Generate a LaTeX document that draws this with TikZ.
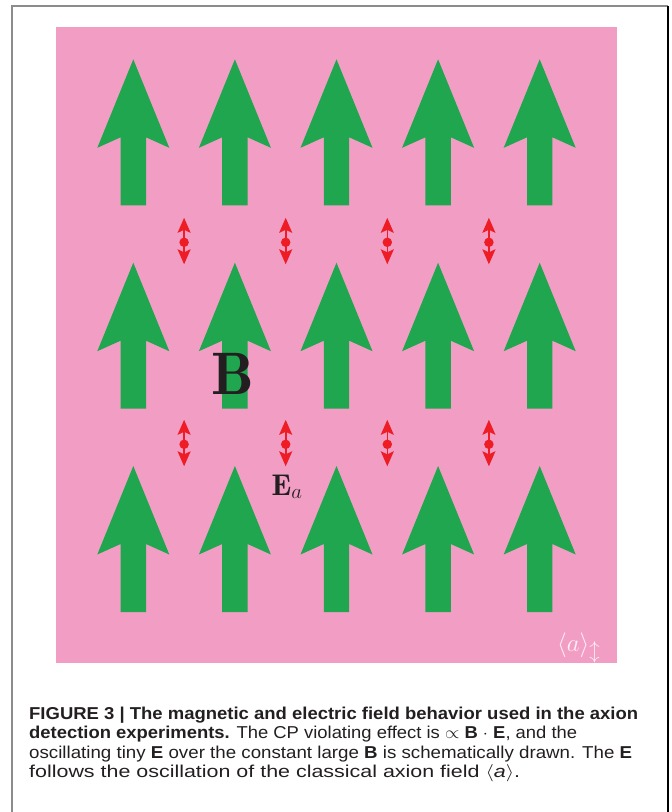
\documentclass[tikz,border=0pt]{standalone}
\usepackage{fontspec}
\usepackage{graphicx}
\newfontfamily\capfont{Liberation Sans}
\usetikzlibrary{arrows.meta}
\definecolor{bgpink}{HTML}{F29EC4}
\definecolor{fgreen}{HTML}{1FA64E}
\definecolor{ered}{HTML}{EE1C25}
\definecolor{inkc}{HTML}{231F20}
\newlength\capw
\newcommand\fitline[2]{\settowidth\capw{#2}\pgfmathsetmacro\capsx{#1/\capw}\scalebox{\capsx}[1]{#2}}
\tikzset{
  bfield/.style={fill=fgreen, draw=none},
  efield/.style={draw=ered, line width=1.6pt,
    {Stealth[length=15pt,width=13pt,inset=3pt]}-{Stealth[length=15pt,width=13pt,inset=3pt]}},
  edot/.style={circle, fill=ered, draw=none, minimum size=9.5pt, inner sep=0pt},
  capline/.style={anchor=base west, inner sep=0pt, text=inkc, font=\capfont\fontsize{17.2}{19.4}\selectfont},
  frameg/.style={draw=gray!90, line width=1.8pt},
  frameb/.style={draw=black, line width=1.5pt}
}
\begin{document}
\begin{tikzpicture}[x=1pt,y=-1pt]
\useasboundingbox (0,0) rectangle (672,812);
% frame
\draw[frameg] (12,812) -- (12,6) -- (668,6);
\draw[frameb] (668,6) -- (668,812);
% background
\fill[bgpink] (56,27) rectangle (616.7,663.3);
% green B-field arrows
\foreach \ty in {59.3,262.7,466} {
  \foreach \c in {0,...,4} {
    \pgfmathsetmacro\cx{133.3+101.6*\c}
    \fill[bfield] (\cx,\ty) -- ++(36,88.5) -- ++(-23.3,-10.5) -- ++(0,68)
      -- ++(-25.4,0) -- ++(0,-68) -- ++(-23.3,10.5) -- cycle;
  }
}
% red E-field oscillation markers
\foreach \r/\ey in {0/242.3,1/444.3} {
  \foreach \c in {0,...,3} {
    \pgfmathsetmacro\ex{184.1+101.6*\c}
    \coordinate (eu\r\c) at (\ex,\ey-24.5);
    \coordinate (ed\r\c) at (\ex,\ey+22);
    \draw[efield] (eu\r\c) -- (ed\r\c);
    \node[edot] (e\r\c) at (\ex,\ey) {};
  }
}
% labels
\node[anchor=base, inner sep=0pt, text=inkc, font=\fontsize{60}{60}\selectfont] (Blab) at (233,394) {$\mathbf{B}$};
\node[anchor=base west, inner sep=0pt, text=inkc, font=\fontsize{30}{30}\selectfont] (Elab) at (271.5,495) {$\mathbf{E}_a$};
\node[anchor=base west, inner sep=0pt, text=white!85!bgpink, font=\fontsize{30}{30}\selectfont] (alab) at (557,651) {$\langle a\rangle_{\updownarrow}$};
% caption
\node[capline] (cap1) at (29,719) {\fitline{609}{\textbf{FIGURE 3 | The magnetic and electric field behavior used in the axion}}};
\node[capline] (cap2) at (29,738.5) {\fitline{548}{\textbf{detection experiments.} The CP violating effect is $\propto$ \textbf{B} $\cdot$ \textbf{E}, and the}};
\node[capline] (cap3) at (29,758) {\fitline{603}{oscillating tiny \textbf{E} over the constant large \textbf{B} is schematically drawn. The \textbf{E}}};
\node[capline] (cap4) at (29,777.4) {\fitline{491}{follows the oscillation of the classical axion field $\langle$\textit{a}$\rangle$.}};
\end{tikzpicture}
\end{document}
